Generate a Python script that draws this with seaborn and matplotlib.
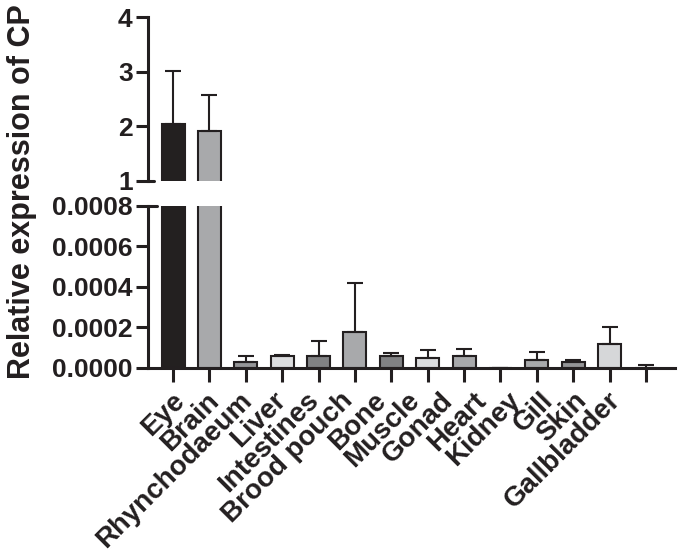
import numpy as np
import pandas as pd
import matplotlib
matplotlib.use('Agg')
import matplotlib.pyplot as plt
from matplotlib.ticker import FormatStrFormatter
from matplotlib.transforms import ScaledTranslation
import seaborn as sns

# tissue expression data (mean and upper error)
tissues = ['Eye', 'Brain', 'Rhynchodaeum', 'Liver', 'Intestines', 'Brood pouch',
           'Bone', 'Muscle', 'Gonad', 'Heart', 'Kidney', 'Gill', 'Skin',
           'Gallbladder']
means = [2.04, 1.91, 0.000031, 0.000058, 0.000061, 0.000178, 0.000058,
         0.000051, 0.000059, 0.000001, 0.000041, 0.000028, 0.000118, 0.000002]
errs = [0.97, 0.67, 0.000030, 0.000008, 0.000071, 0.000243, 0.000014,
        0.000036, 0.000035, 0.000001, 0.000038, 0.000012, 0.000083, 0.000014]
colors = ['#231f20', '#a7a9ac', '#939598', '#dcdddf', '#808285', '#a7a9ac',
          '#808285', '#dcdddf', '#a7a9ac', '#808285', '#a7a9ac', '#939598',
          '#d6d7d9', '#808285']
top_ticks = [1, 2, 3, 4]
bot_ticks = [0, 0.0002, 0.0004, 0.0006, 0.0008]

sns.set_style('ticks')
plt.rcParams['font.family'] = ['Liberation Sans', 'DejaVu Sans']
plt.rcParams['font.weight'] = 'bold'
ink = '#231f20'

df = pd.DataFrame({'tissue': tissues, 'expr': means})

fig = plt.figure(figsize=(6.85, 5.55), dpi=100)
ax_top = fig.add_axes([0.216, 0.674, 0.769, 0.295])
ax_bot = fig.add_axes([0.216, 0.337, 0.769, 0.292])

for ax in (ax_top, ax_bot):
    sns.barplot(data=df, x='tissue', y='expr', hue='tissue', palette=colors,
                legend=False, width=0.63, edgecolor=ink, linewidth=1.5,
                errorbar=None, ax=ax)
    ax.errorbar(np.arange(len(tissues)), means,
                yerr=[np.zeros(len(errs)), errs], fmt='none', ecolor=ink,
                elinewidth=1.5, capsize=6, capthick=1.5)
    ax.set_xlim(-0.69, 13.79)
    ax.set_xlabel('')
    ax.set_ylabel('')
    for s in ['top', 'right']:
        ax.spines[s].set_visible(False)
    ax.spines['left'].set_linewidth(2.2)
    ax.spines['left'].set_color(ink)
    ax.tick_params(axis='y', length=9, width=2.2, color=ink, pad=2,
                   labelsize=19, labelcolor=ink)

# top panel (1 - 4)
ax_top.set_ylim(1, 4)
ax_top.set_yticks(top_ticks)
ax_top.spines['bottom'].set_visible(False)
ax_top.tick_params(axis='x', bottom=False, labelbottom=False)
ax_top.plot([0, 0.012], [0, 0], transform=ax_top.transAxes, color=ink,
            lw=2.2, clip_on=False)

# bottom panel (0 - 0.0008)
ax_bot.set_ylim(0, 0.0008)
ax_bot.set_yticks(bot_ticks)
ax_bot.yaxis.set_major_formatter(FormatStrFormatter('%.4f'))
ax_bot.spines['bottom'].set_linewidth(2.2)
ax_bot.spines['bottom'].set_color(ink)
ax_bot.tick_params(axis='x', length=10, width=2.2, color=ink, pad=4,
                   labelsize=20, labelcolor=ink)
ax_bot.plot([0, 0.018], [1, 1], transform=ax_bot.transAxes, color=ink,
            lw=2.2, clip_on=False)
# labels in the original drift slightly left of their ticks
for i, lab in enumerate(ax_bot.get_xticklabels()):
    lab.set_rotation(45)
    lab.set_ha('right')
    lab.set_rotation_mode('anchor')
    lab.set_fontweight('bold')
    dx = (-1 - 2.9 * i) / 100.0
    lab.set_transform(lab.get_transform() +
                      ScaledTranslation(dx, 0, fig.dpi_scale_trans))

fig.text(0.032, 0.655, 'Relative expression of CP', rotation=90, fontsize=22,
         fontweight='bold', ha='center', va='center', color=ink)

fig.savefig('out.png', dpi=100)
